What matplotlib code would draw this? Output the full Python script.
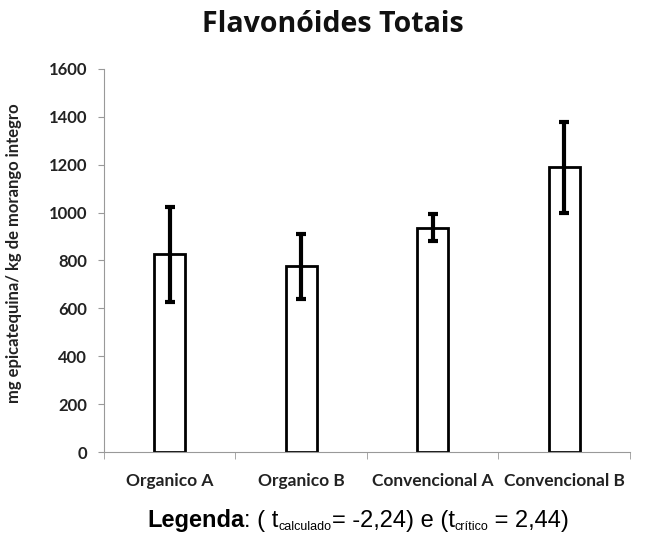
import matplotlib.pyplot as plt
import numpy as np

# dados
categorias = ['Organico A', 'Organico B', 'Convencional A', 'Convencional B']
media = [825, 775, 937, 1188]
desvio = [200, 135, 55, 190]

fig = plt.figure(figsize=(6.57, 5.5), dpi=100)
ax = fig.add_axes([0.158, 0.178, 0.801, 0.697])

x = np.arange(len(categorias))
ax.bar(x, media, width=0.235, color='white', edgecolor='black', linewidth=2, zorder=2)
ax.errorbar(x, media, yerr=desvio, fmt='none', ecolor='black', elinewidth=3,
            capsize=3.5, capthick=3, zorder=3)

ax.set_xlim(-0.5, len(categorias) - 0.5)
ax.set_ylim(0, 1600)
ax.set_yticks(np.arange(0, 1601, 200))
ax.set_xticks(x)
ax.set_xticklabels(categorias, fontfamily='Lato', fontweight='bold', fontsize=12.5,
                   color='#222222')
for lab in ax.get_yticklabels():
    lab.set_fontfamily('Lato')
    lab.set_fontweight('bold')
    lab.set_fontsize(12)
    lab.set_color('#222222')

# ticks menores entre as categorias no eixo x
ax.set_xticks(np.arange(-0.5, len(categorias)), minor=True)
ax.tick_params(axis='x', which='major', length=0, pad=15)
ax.tick_params(axis='x', which='minor', length=5, color='#999999', direction='out')
ax.tick_params(axis='y', length=4, color='#999999', pad=8)

for s in ['top', 'right']:
    ax.spines[s].set_visible(False)
for s in ['left', 'bottom']:
    ax.spines[s].set_color('#999999')

ax.set_ylabel('mg epicatequina/ kg de morango integro', fontfamily='Lato',
              fontweight='bold', fontsize=12, color='#222222')
ax.yaxis.set_label_coords(-0.155, 0.52)

fig.text(0.507, 0.942, 'Flavonóides Totais', ha='center', va='baseline',
         fontfamily='Open Sans', fontweight='bold', fontsize=20.5, color='#111111')

# legenda montada por partes (subscritos pequenos)
pedacos = [('Legenda', 'bold', 17, 0),
           (': ( t', 'normal', 17, 0),
           ('calculado', 'normal', 9, -3),
           ('= -2,24) e (t', 'normal', 17, 0),
           ('crítico', 'normal', 9, -3),
           (' = 2,44)', 'normal', 17, 0)]
renderer = fig.canvas.get_renderer()
xpos = 147
base = 550 - 527
for txt, peso, tam, dy in pedacos:
    t = fig.text(xpos / 657, (base + dy) / 550, txt, ha='left', va='baseline',
                 fontfamily='Liberation Sans', fontweight=peso, fontsize=tam)
    bb = t.get_window_extent(renderer)
    xpos = bb.x1

fig.savefig('out.png', dpi=100)
